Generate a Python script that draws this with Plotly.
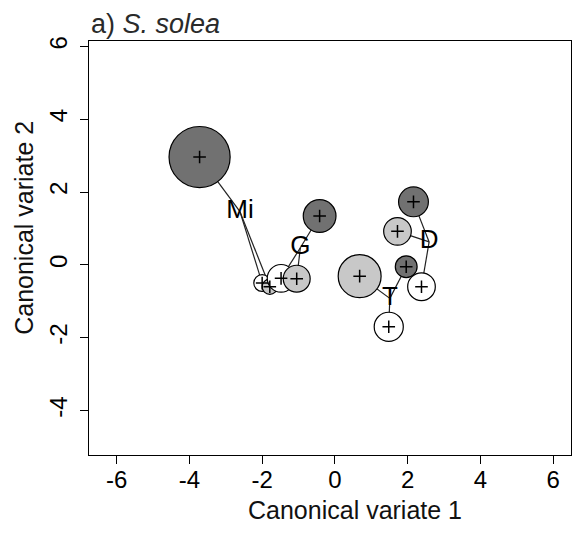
import plotly.graph_objects as go

# ---- data ----
group_labels = ["Mi", "G", "T", "D"]
label_x = [-2.61, -0.95, 1.51, 2.59]
label_y = [1.46, 0.47, -0.92, 0.63]

point_group = ["Mi", "Mi", "Mi", "G", "G", "G", "T", "T", "T", "D", "D", "D"]
point_level = ["dark", "white", "gray", "dark", "white", "gray",
               "dark", "white", "gray", "dark", "white", "gray"]
point_x = [-3.72, -2.00, -1.79, -0.42, -1.48, -1.05, 1.96, 1.48, 0.68, 2.16, 2.38, 1.72]
point_y = [2.96, -0.50, -0.60, 1.34, -0.37, -0.38, -0.05, -1.70, -0.31, 1.73, -0.60, 0.92]
point_radius = [0.84, 0.23, 0.21, 0.45, 0.38, 0.37, 0.30, 0.40, 0.59, 0.41, 0.38, 0.38]

x_tickvals = [-6, -4, -2, 0, 2, 4, 6]
x_ticktext = ["-6", "-4", "-2", "0", "2", "4", "6"]
y_tickvals = [-4, -2, 0, 2, 4, 6]
y_ticktext = ["-4", "-2", "0", "2", "4", "6"]

# ---- layout constants ----
W, H = 572, 533
ML, MR, MT, MB = 89, 1, 41, 78
XR = [-6.76, 6.49]
YR = [-5.22, 6.146]
px_per_unit = (W - ML - MR) / (XR[1] - XR[0])
FONT = "Liberation Sans, Arial, sans-serif"
shade = {"dark": "#717171", "gray": "#c8c8c8", "white": "#ffffff"}

fig = go.Figure()

# connecting lines from group label to each group mean
lx, ly = [], []
for g, px, py in zip(point_group, point_x, point_y):
    i = group_labels.index(g)
    lx += [label_x[i], px, None]
    ly += [label_y[i], py, None]
fig.add_trace(go.Scatter(x=lx, y=ly, mode="lines",
                         line=dict(color="#222222", width=1.2),
                         hoverinfo="skip", showlegend=False))

# circles
fig.add_trace(go.Scatter(
    x=point_x, y=point_y, mode="markers",
    marker=dict(symbol="circle",
                size=[2 * r * px_per_unit for r in point_radius],
                color=[shade[l] for l in point_level],
                opacity=1,
                line=dict(color="black", width=1.2)),
    showlegend=False))

# plus signs at centres
fig.add_trace(go.Scatter(
    x=point_x, y=point_y, mode="markers",
    marker=dict(symbol="cross-thin", size=9,
                line=dict(color="black", width=1.5)),
    showlegend=False))

# group labels
fig.add_trace(go.Scatter(
    x=label_x, y=label_y, mode="text", text=group_labels,
    textposition="middle center",
    textfont=dict(family=FONT, size=26, color="black"),
    showlegend=False))

axis_common = dict(showgrid=False, zeroline=False, showline=True, mirror=True,
                   linecolor="black", linewidth=1, ticks="outside", ticklen=8,
                   tickcolor="black", tickwidth=1,
                   tickfont=dict(family=FONT, size=24, color="black"))

fig.update_layout(
    width=W, height=H,
    margin=dict(l=ML, r=MR, t=MT, b=MB),
    paper_bgcolor="white", plot_bgcolor="white",
    xaxis=dict(range=XR, tickvals=x_tickvals, ticktext=x_ticktext,
               ticklabelstandoff=-5, **axis_common),
    yaxis=dict(range=YR, tickvals=y_tickvals, ticktext=y_ticktext,
               tickangle=-90, ticklabelstandoff=3, **axis_common),
    annotations=[
        dict(text="a) <i>S. solea</i>", xref="paper", yref="paper",
             x=0, y=1 + (41 - 23.5) / 414, xanchor="left", yanchor="middle",
             showarrow=False, font=dict(family=FONT, size=27, color="#2a2a2a")),
        dict(text="Canonical variate 1", xref="paper", yref="paper",
             x=(355 - ML) / 482, y=-(510 - 454.7) / 414,
             xanchor="center", yanchor="middle",
             showarrow=False, font=dict(family=FONT, size=25, color="#111111")),
        dict(text="Canonical variate 2", xref="paper", yref="paper",
             x=-(ML - 24) / 482, y=(454.7 - 227.5) / 414, textangle=-90,
             xanchor="center", yanchor="middle",
             showarrow=False, font=dict(family=FONT, size=25, color="#111111")),
    ],
)

fig.write_html("out.html")
